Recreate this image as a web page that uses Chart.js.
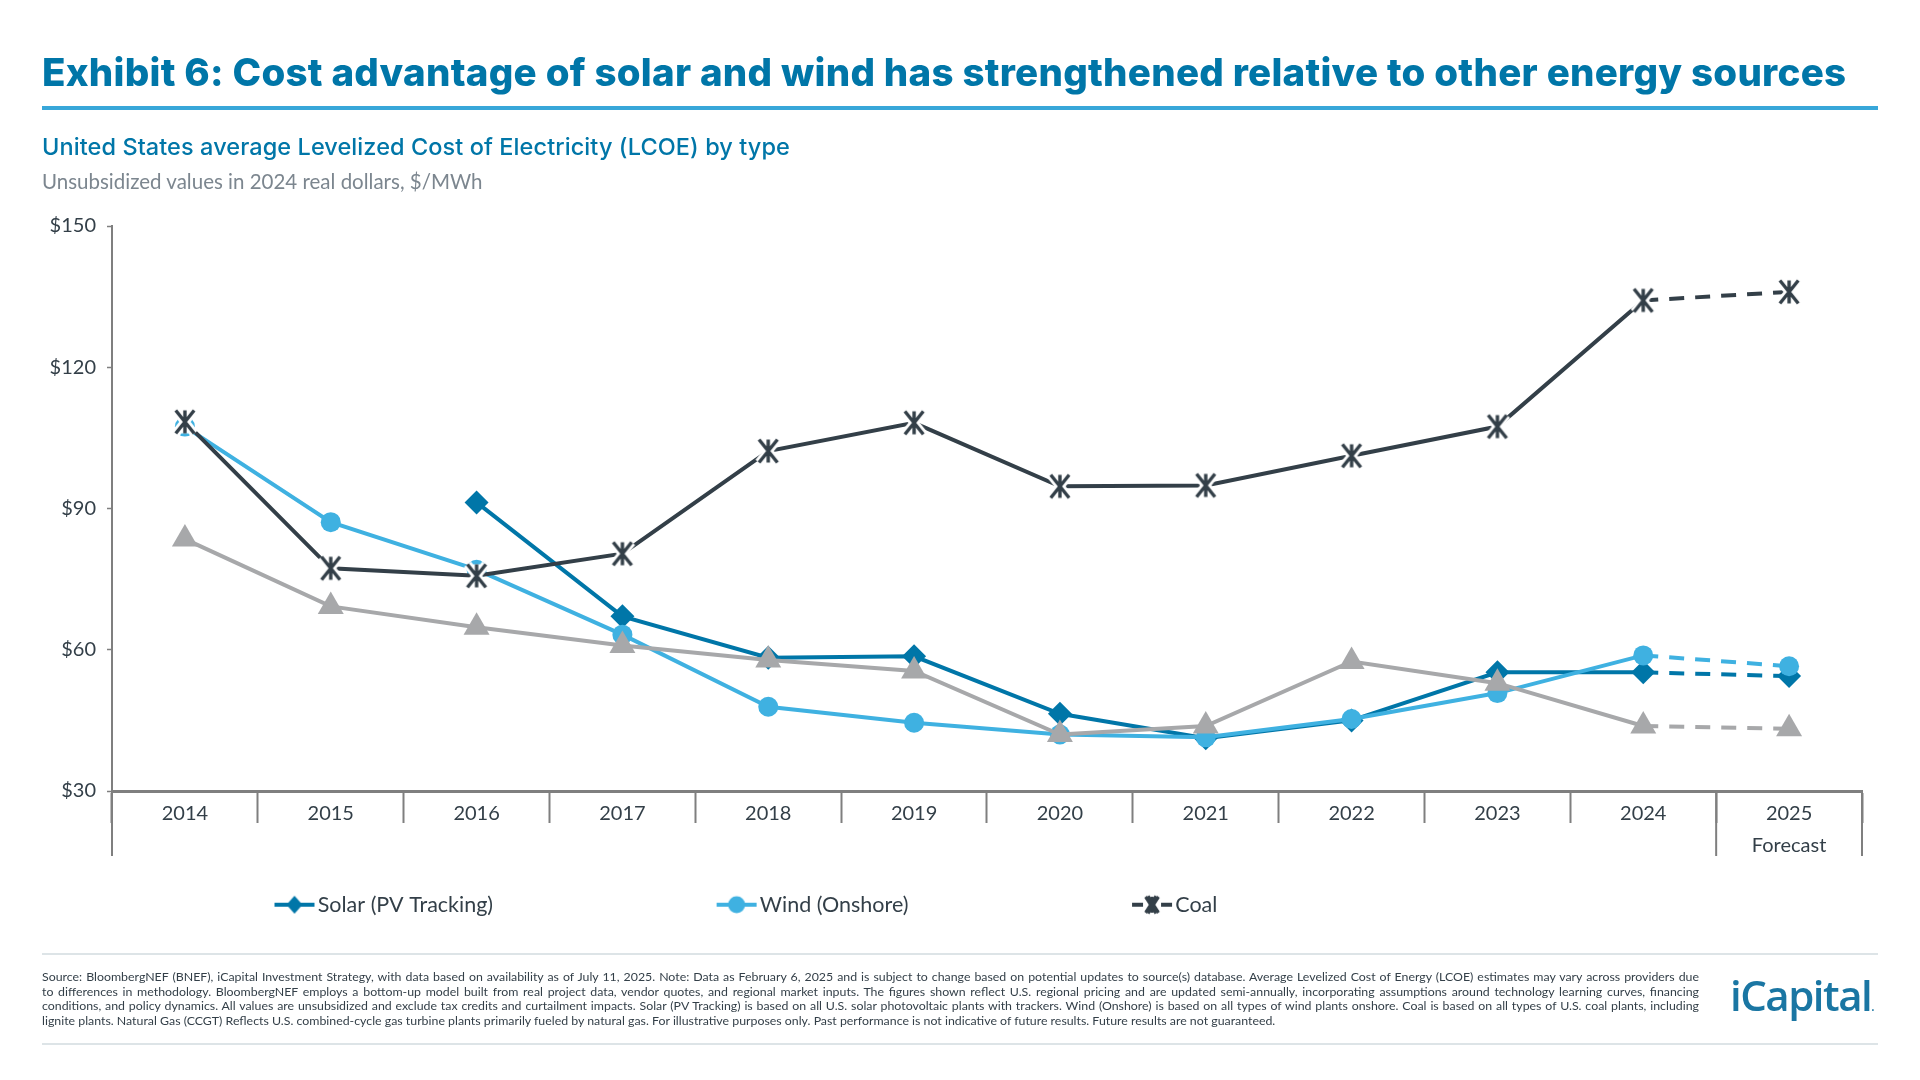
<!DOCTYPE html>
<html>
<head>
<meta charset="utf-8">
<script src="https://cdn.jsdelivr.net/npm/chart.js@4/dist/chart.umd.js"></script>
<style>
  html, body { margin: 0; background: #fff; }
  #page { position: relative; width: 1920px; height: 1080px; overflow: hidden; font-family: Lato, sans-serif; }
  #page > div { position: absolute; white-space: nowrap; }
  canvas { position: absolute; left: 0; top: 0; }
  #title { left: 42px; top: 49px; font: 800 38.5px/46px Inter, sans-serif; letter-spacing: 0.25px; color: #0076a8; }
  #rule1 { left: 42px; top: 106px; width: 1836px; height: 4px; background: #38a7d9; }
  #sub1 { left: 42px; top: 132px; font: 500 23.5px/30px Inter, sans-serif; letter-spacing: 0.08px; color: #0076a8; }
  #sub2 { left: 42px; top: 167px; font: 400 20.5px/28px Lato, sans-serif; color: #7c868f; }
  #rule2, #rule3 { left: 42px; width: 1836px; height: 2px; background: #dde4e7; }
  #rule2 { top: 953px; }
  #rule3 { top: 1043px; }
  #notes { left: 42px; top: 970px; width: 1657px; font: 400 12.35px/14.6px Lato, sans-serif; color: #333f48; }
  #notes div { text-align: justify; text-align-last: justify; white-space: normal; }
  #notes div:last-child { text-align-last: left; }
  #logo { left: 1730px; top: 971px; font: 600 42px/48px "Open Sans", sans-serif; color: #1a76a3; letter-spacing: -1.5px; }
  #logo span { font-size: 12px; letter-spacing: 0; }
</style>
</head>
<body>
<div id="page">
  <canvas id="lcoeChart" width="1920" height="1080" style="width:1920px;height:1080px"></canvas>
  <div id="title">Exhibit 6: Cost advantage of solar and wind has strengthened relative to other energy sources</div>
  <div id="rule1"></div>
  <div id="sub1">United States average Levelized Cost of Electricity (LCOE) by type</div>
  <div id="sub2">Unsubsidized values in 2024 real dollars, $/MWh</div>
  <div id="rule2"></div>
  <div id="notes">
    <div>Source: BloombergNEF (BNEF), iCapital Investment Strategy, with data based on availability as of July 11, 2025. Note: Data as February 6, 2025 and is subject to change based on potential updates to source(s) database. Average Levelized Cost of Energy (LCOE) estimates may vary across providers due</div>
    <div>to differences in methodology. BloombergNEF employs a bottom-up model built from real project data, vendor quotes, and regional market inputs. The figures shown reflect U.S. regional pricing and are updated semi-annually, incorporating assumptions around technology learning curves, financing</div>
    <div>conditions, and policy dynamics. All values are unsubsidized and exclude tax credits and curtailment impacts. Solar (PV Tracking) is based on all U.S. solar photovoltaic plants with trackers. Wind (Onshore) is based on all types of wind plants onshore. Coal is based on all types of U.S. coal plants, including</div>
    <div>lignite plants. Natural Gas (CCGT) Reflects U.S. combined-cycle gas turbine plants primarily fueled by natural gas. For illustrative purposes only. Past performance is not indicative of future results. Future results are not guaranteed.</div>
  </div>
  <div id="logo">iCapital<span>.</span></div>
  <div id="rule3"></div>
</div>
<script>
const years = ['2014', '2015', '2016', '2017', '2018', '2019', '2020', '2021', '2022', '2023', '2024', ['2025', 'Forecast']];
const solar = [null, null, 91.3, 67.1, 58.3, 58.6, 46.4, 41.2, 45, 55.2, 55.2, 54.4];
const wind = [107.4, 87.1, 77, 63.2, 47.9, 44.5, 42, 41.4, 45.3, 50.8, 58.8, 56.5];
const coal = [108.4, 77.3, 75.7, 80.4, 102.2, 108.2, 94.7, 94.9, 101.2, 107.4, 134.2, 136];
const gas = [83.5, 69.2, 64.8, 60.9, 57.8, 55.5, 42, 43.8, 57.5, 52.9, 43.8, 43.2];

const SOLAR = '#0076a8';
const WIND = '#3fb1e1';
const COAL = '#333f48';
const GAS = '#a7a8aa';
const AXIS = '#7f7f7f';
const LABEL = '#333f48';

function sprite(w, h, draw) {
  const c = document.createElement('canvas');
  c.width = w; c.height = h;
  draw(c.getContext('2d'), w / 2, h / 2);
  return c;
}

// the coal marker is an X with a vertical bar and a white halo that cuts the line
function star(ctx, cx, cy, r, halo) {
  ctx.lineCap = 'butt';
  const dx = r * 0.8, dy = r;
  const strokes = () => {
    ctx.beginPath();
    ctx.moveTo(cx - dx, cy - dy); ctx.lineTo(cx + dx, cy + dy);
    ctx.moveTo(cx + dx, cy - dy); ctx.lineTo(cx - dx, cy + dy);
    ctx.moveTo(cx, cy - dy); ctx.lineTo(cx, cy + dy);
    ctx.stroke();
  };
  if (halo) { ctx.strokeStyle = '#fff'; ctx.lineWidth = 9; strokes(); }
  ctx.strokeStyle = COAL; ctx.lineWidth = 3.4; strokes();
}

const coalPoint = sprite(36, 36, (ctx, x, y) => star(ctx, x, y, 11.5, true));

// legend swatches: short line with the marker on top
function swatch(color, marker) {
  return sprite(42, 24, (ctx, x, y) => {
    ctx.fillStyle = color;
    ctx.fillRect(1, y - 2, 40, 4);
    ctx.beginPath();
    marker(ctx, x, y);
    ctx.fill();
  });
}
const legendSolar = swatch(SOLAR, (ctx, x, y) => {
  ctx.moveTo(x, y - 9); ctx.lineTo(x + 8, y); ctx.lineTo(x, y + 9); ctx.lineTo(x - 8, y);
});
const legendWind = swatch(WIND, (ctx, x, y) => ctx.arc(x, y, 8.5, 0, Math.PI * 2));
const legendGas = swatch(GAS, (ctx, x, y) => {
  ctx.moveTo(x, y - 11); ctx.lineTo(x + 11, y + 7); ctx.lineTo(x - 11, y + 7);
});
const legendCoal = sprite(42, 24, (ctx, x, y) => {
  ctx.fillStyle = COAL;
  ctx.fillRect(1, y - 2, 11, 4);
  ctx.fillRect(30, y - 2, 11, 4);
  star(ctx, x, y, 8, false);
  ctx.strokeStyle = COAL; ctx.lineWidth = 5.5;
  ctx.beginPath();
  ctx.moveTo(x - 5, y - 8); ctx.lineTo(x + 5, y + 8);
  ctx.moveTo(x + 5, y - 8); ctx.lineTo(x - 5, y + 8);
  ctx.stroke();
});

// 2024 to 2025 is the forecast leg
const forecastDash = { borderDash: ctx => ctx.p0DataIndex === 10 ? [15, 11] : undefined };

function lineSet(label, data, color, pointStyle, radius, order) {
  return {
    label, data, order, pointStyle,
    borderColor: color,
    backgroundColor: color,
    pointBackgroundColor: color,
    pointBorderWidth: 0,
    pointRadius: radius,
    pointHoverRadius: radius,
    borderWidth: 4,
    tension: 0,
    segment: forecastDash
  };
}

const legendSwatches = [legendSolar, legendWind, legendCoal, legendGas];
const LEGEND_GAP = 231;

// axis legs that run below the category row, and the legend's place on the page
const pagePlugin = {
  id: 'pagePlugin',
  afterLayout(chart) {
    chart.legend.left = 282 - LEGEND_GAP;
    chart.legend.top = 894 - LEGEND_GAP;
  },
  afterDraw(chart) {
    const { x, y } = chart.scales;
    const half = (x.getPixelForValue(1) - x.getPixelForValue(0)) / 2;
    const last = x.getPixelForValue(11);
    const ctx = chart.ctx;
    ctx.save();
    ctx.strokeStyle = AXIS;
    ctx.lineWidth = 2;
    ctx.beginPath();
    [x.left, last - half, last + half].forEach(px => {
      ctx.moveTo(px, y.bottom);
      ctx.lineTo(px, y.bottom + 65);
    });
    ctx.stroke();
    ctx.restore();
  }
};

new Chart(document.getElementById('lcoeChart'), {
  type: 'line',
  data: {
    labels: years,
    datasets: [
      lineSet('Solar (PV Tracking)', solar, SOLAR, 'rectRot', 12, 4),
      lineSet('Wind (Onshore)', wind, WIND, 'circle', 10, 3),
      lineSet('Coal', coal, COAL, coalPoint, 12, 2),
      lineSet('Natural Gas (CCGT)', gas, GAS, 'triangle', 15, 1)
    ]
  },
  options: {
    responsive: false,
    animation: false,
    devicePixelRatio: 1,
    layout: { autoPadding: false, padding: { top: 226, right: 58, left: 0, bottom: 0 } },
    plugins: {
      tooltip: { enabled: false },
      legend: {
        position: 'bottom',
        align: 'start',
        maxHeight: 30,
        labels: {
          usePointStyle: true,
          pointStyleWidth: 25,
          padding: LEGEND_GAP,
          color: LABEL,
          font: { family: 'Lato', size: 21.5 },
          generateLabels: chart => chart.data.datasets.map((d, i) => ({
            text: d.label,
            datasetIndex: i,
            pointStyle: legendSwatches[i],
            fontColor: LABEL,
            lineWidth: 0
          }))
        }
      }
    },
    scales: {
      x: {
        offset: true,
        afterFit: scale => { scale.height = 259; },
        border: { color: AXIS, width: 3 },
        grid: { offset: true, drawOnChartArea: false, drawTicks: true, tickLength: 32, tickWidth: 2, tickColor: AXIS },
        ticks: { autoSkip: false, maxRotation: 0, padding: -25, color: LABEL, font: { family: 'Lato', size: 20, lineHeight: 1.6 } }
      },
      y: {
        min: 30,
        max: 150,
        afterFit: scale => { scale.width = 112; },
        border: { color: AXIS, width: 2 },
        grid: { drawOnChartArea: false, drawTicks: true, tickLength: 5, tickWidth: 1.5, tickColor: AXIS },
        ticks: { stepSize: 30, padding: 11, color: LABEL, font: { family: 'Lato', size: 20 }, callback: v => '$' + v }
      }
    }
  },
  plugins: [pagePlugin]
});
</script>
</body>
</html>
